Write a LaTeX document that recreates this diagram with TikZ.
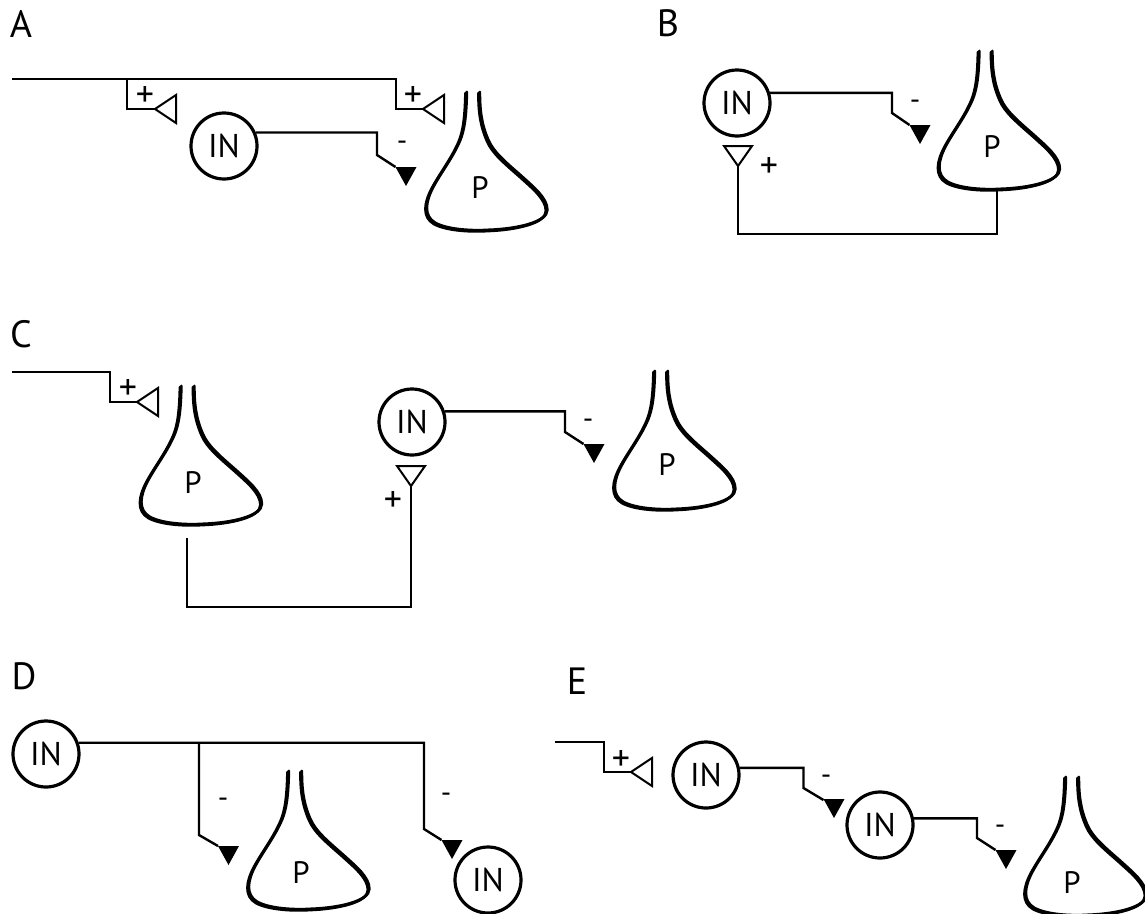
\documentclass[tikz,border=0pt]{standalone}
\usepackage{fontspec}
\setmainfont{PT Sans}
\begin{document}
\begin{tikzpicture}[x=1pt,y=-1pt,
  axon/.style={line width=2.4},
  thinaxon/.style={line width=1.4},
  inn/.style={circle,draw,line width=3.2,minimum size=66,inner sep=0,font=\fontsize{33}{33}\selectfont},
  plab/.style={font=\fontsize{31}{31}\selectfont,inner sep=0},
  panel/.style={font=\fontsize{38}{38}\selectfont,inner sep=0},
  sgn/.style={font=\fontsize{29}{29}\selectfont,inner sep=0},
  pls/.style={font=\fontsize{36}{36}\selectfont,inner sep=0},
  pyrline/.style={line width=2.8,line cap=round},
  pics/pyr/.style={code={
    \foreach \s in {(0,0),(1.3,-1.1)}{
    \draw[pyrline,shift={\s}] (-6.5,0) .. controls (-7,25) and (-9,38) .. (-13,48)
      .. controls (-20,65) and (-32,80) .. (-40,95)
      .. controls (-48,110) and (-50,124) .. (-38,131)
      .. controls (-25,138) and (0,139) .. (15,138)
      .. controls (45,137) and (74,130) .. (74,118)
      .. controls (74,106) and (60,95) .. (48,84)
      .. controls (32,70) and (20,60) .. (15,48)
      .. controls (8,32) and (6.5,18) .. (6.5,0);}}},
  pics/excL/.style={code={\draw[line width=2,fill=white] (0,0) -- (21,-14) -- (21,14) -- cycle;}},
  pics/excD/.style={code={\draw[line width=2,fill=white] (0,0) -- (-14,-20) -- (14,-20) -- cycle;}},
  pics/inh/.style={code={\fill (0,0) -- (-10.5,-19) -- (10.5,-19) -- cycle;}}
]
\useasboundingbox (0,0) rectangle (1145,913);

% ---------- A ----------
\node[panel] (labA) at (21,24) {A};
\coordinate (aStart) at (12,79);
\coordinate (aE1) at (155,109);
\coordinate (aE2) at (423,109);
\draw[axon] (aStart) -- (396,79) |- (aE2);
\draw[axon] (127,79) |- (aE1);
\pic at (aE1) {excL};
\pic at (aE2) {excL};
\node[pls] (aP1) at (145,97) {+};
\node[pls] (aP2) at (413,97) {+};
\node[inn] (inA) at (224,146) {IN};
\coordinate (aI) at (406,186);
\draw[axon] (inA.23) -| (377,155) -- (395.5,167);
\pic at (aI) {inh};
\node[sgn] (aM) at (402,146) {-};
\pic at (472,93) {pyr};
\node[plab] (pA) at (480,188) {P};

% ---------- B ----------
\node[panel] (labB) at (668,23) {B};
\node[inn] (inB) at (737,103) {IN};
\coordinate (bI) at (920,144);
\draw[axon] (inB.17) -| (892,113) -- (909.5,125);
\pic at (bI) {inh};
\node[sgn] (bM) at (915,105) {-};
\coordinate (bE) at (738,166);
\coordinate (bPb) at (997,190);
\draw[axon] (bE) -- (738,234) -| (bPb);
\pic at (bE) {excD};
\node[pls] (bP) at (769,168) {+};
\pic at (984.5,52) {pyr};
\node[plab] (pB) at (992,147) {P};

% ---------- C ----------
\node[panel] (labC) at (21,334) {C};
\coordinate (cStart) at (12,372);
\coordinate (cE1) at (137,402);
\draw[thinaxon] (cStart) -| (110,402) -- (cE1);
\pic at (cE1) {excL};
\node[pls] (cP1) at (128,390) {+};
\pic at (186.5,387) {pyr};
\node[plab] (pC1) at (193,483) {P};
\coordinate (cPb) at (187,538);
\coordinate (cE2) at (411,486);
\draw[axon] (cPb) -- (187,607) -| (cE2);
\pic at (cE2) {excD};
\node[pls] (cP2) at (393,502) {+};
\node[inn] (inC) at (412,422) {IN};
\coordinate (cI) at (594,463);
\draw[axon] (inC.18) -| (565,432) -- (583.5,444);
\pic at (cI) {inh};
\node[sgn] (cM) at (588,424) {-};
\pic at (660,372) {pyr};
\node[plab] (pC2) at (667,465) {P};

% ---------- D ----------
\node[panel] (labD) at (24,676) {D};
\node[inn] (inD1) at (46,754) {IN};
\node[inn] (inD2) at (488,880) {IN};
\coordinate (dj) at (199,0);
\coordinate (dI1) at (228.5,865);
\coordinate (dI2) at (452,859);
\draw[axon] (inD1.19) -| (424,829) -- (441.5,840);
\draw[axon] (inD1.19 -| dj) -- (199,835) -- (218,846);
\pic at (dI1) {inh};
\pic at (dI2) {inh};
\node[sgn] (dM1) at (223,803) {-};
\node[sgn] (dM2) at (446,798) {-};
\pic at (294,772) {pyr};
\node[plab] (pD) at (301,873) {P};

% ---------- E ----------
\node[panel] (labE) at (577,681) {E};
\coordinate (eStart) at (555,742);
\coordinate (eE) at (631,772);
\draw[thinaxon] (eStart) -| (604,772) -- (eE);
\pic at (eE) {excL};
\node[pls] (eP) at (621,760) {+};
\node[inn] (inE1) at (706,775) {IN};
\node[inn] (inE2) at (880,825) {IN};
\coordinate (eI1) at (834,818);
\coordinate (eI2) at (1006,869);
\draw[axon] (inE1.12) -| (803.5,788) -- (823.5,800);
\draw[axon] (inE2.11) -| (977,838) -- (995.5,850);
\pic at (eI1) {inh};
\pic at (eI2) {inh};
\node[sgn] (eM1) at (826,780) {-};
\node[sgn] (eM2) at (1000,830) {-};
\pic at (1071,778) {pyr};
\node[plab] (pE) at (1072,883) {P};
\end{tikzpicture}
\end{document}
